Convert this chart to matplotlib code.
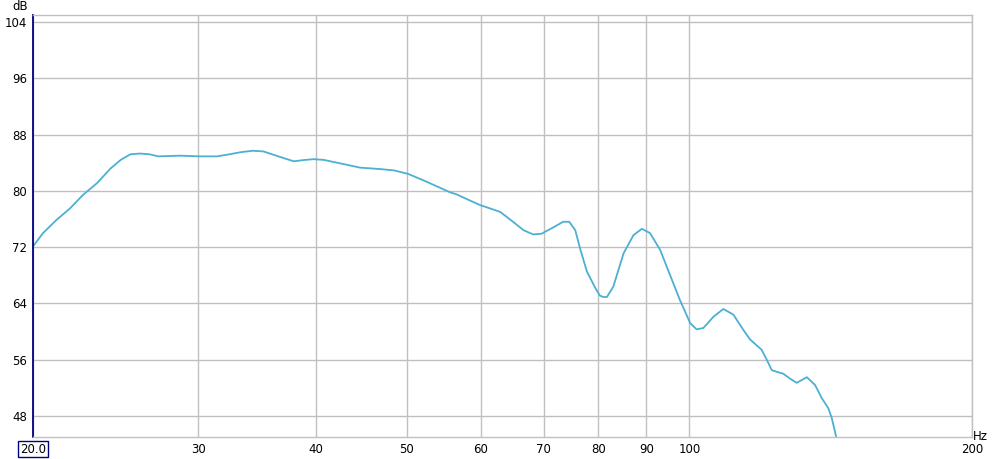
import matplotlib
matplotlib.use("Agg")
import matplotlib.pyplot as plt
from matplotlib.ticker import FixedLocator, NullLocator, FixedFormatter

freq_hz = [20.0, 20.5, 21.2, 21.9, 22.6, 23.4, 24.2, 24.8, 25.4, 26.0, 26.6, 27.2,
           28.7, 30.1, 31.4, 32.4, 33.3, 34.3, 35.2, 36.5, 37.9, 39.0, 39.8, 40.8,
           42.5, 44.6, 46.8, 48.5, 50.2, 52.5, 55.6, 56.5, 58.0, 59.8, 62.9, 64.9,
           66.6, 68.2, 69.6, 71.4, 73.4, 74.5, 75.6, 76.5, 77.8, 79.4, 80.3, 81.0,
           81.7, 83.0, 85.1, 87.2, 89.0, 90.8, 93.1, 95.4, 97.7, 100.2, 101.8, 103.5,
           106.1, 108.7, 111.4, 114.2, 116.0, 119.4, 120.9, 122.4, 124.4, 125.9,
           128.0, 130.1, 133.4, 136.1, 138.4, 140.6, 141.8, 143.3]
level_db = [72.1, 74.0, 75.9, 77.5, 79.4, 81.1, 83.2, 84.4, 85.2, 85.3, 85.2, 84.9,
            85.0, 84.9, 84.9, 85.2, 85.5, 85.7, 85.6, 84.9, 84.2, 84.4, 84.5, 84.4,
            83.9, 83.3, 83.1, 82.9, 82.4, 81.3, 79.8, 79.5, 78.8, 78.0, 77.0, 75.6,
            74.4, 73.8, 73.9, 74.7, 75.6, 75.6, 74.4, 71.8, 68.5, 66.2, 65.1, 64.9,
            64.9, 66.4, 71.1, 73.7, 74.6, 74.0, 71.6, 68.0, 64.5, 61.2, 60.3, 60.5,
            62.1, 63.2, 62.4, 60.2, 58.9, 57.4, 56.0, 54.5, 54.2, 54.0,
            53.3, 52.7, 53.5, 52.4, 50.5, 49.1, 47.7, 45.1]

x_ticks = [20, 30, 40, 50, 60, 70, 80, 90, 100, 200]
x_labels = ["", "30", "40", "50", "60", "70", "80", "90", "100", "200"]
y_ticks = [48, 56, 64, 72, 80, 88, 96, 104]

fig = plt.figure(figsize=(9.98, 4.59), dpi=100)
ax = fig.add_axes([33/998, 22/459, (972-33)/998, (437-15)/459])
ax.set_xscale("log")
ax.set_xlim(20, 200)
ax.set_ylim(45, 105)

ax.plot(freq_hz, level_db, color="#4bb0d2", lw=1.3, solid_joinstyle="round",
        solid_capstyle="round")

ax.xaxis.set_major_locator(FixedLocator(x_ticks))
ax.xaxis.set_major_formatter(FixedFormatter(x_labels))
ax.xaxis.set_minor_locator(NullLocator())
ax.yaxis.set_major_locator(FixedLocator(y_ticks))
ax.yaxis.set_minor_locator(NullLocator())

ax.grid(True, color="#c0c0c0", lw=1.0)
ax.tick_params(length=0, labelsize=8.5, pad=4)
for s in ["top", "right", "bottom"]:
    ax.spines[s].set_color("#c0c0c0")
    ax.spines[s].set_linewidth(1.0)
ax.spines["left"].set_color("#000080")
ax.spines["left"].set_linewidth(1.3)

ax.text(20, 44.2, "20.0", ha="center", va="top", fontsize=8.5,
        bbox=dict(boxstyle="square,pad=0.15", fc="white", ec="#000080", lw=1.0))
fig.text(28/998, 1 - 6/459, "dB", ha="right", va="center", fontsize=8.5)
fig.text(980/998, 1 - 437/459, "Hz", ha="center", va="center", fontsize=8.5)

fig.savefig("out.png", dpi=100)
